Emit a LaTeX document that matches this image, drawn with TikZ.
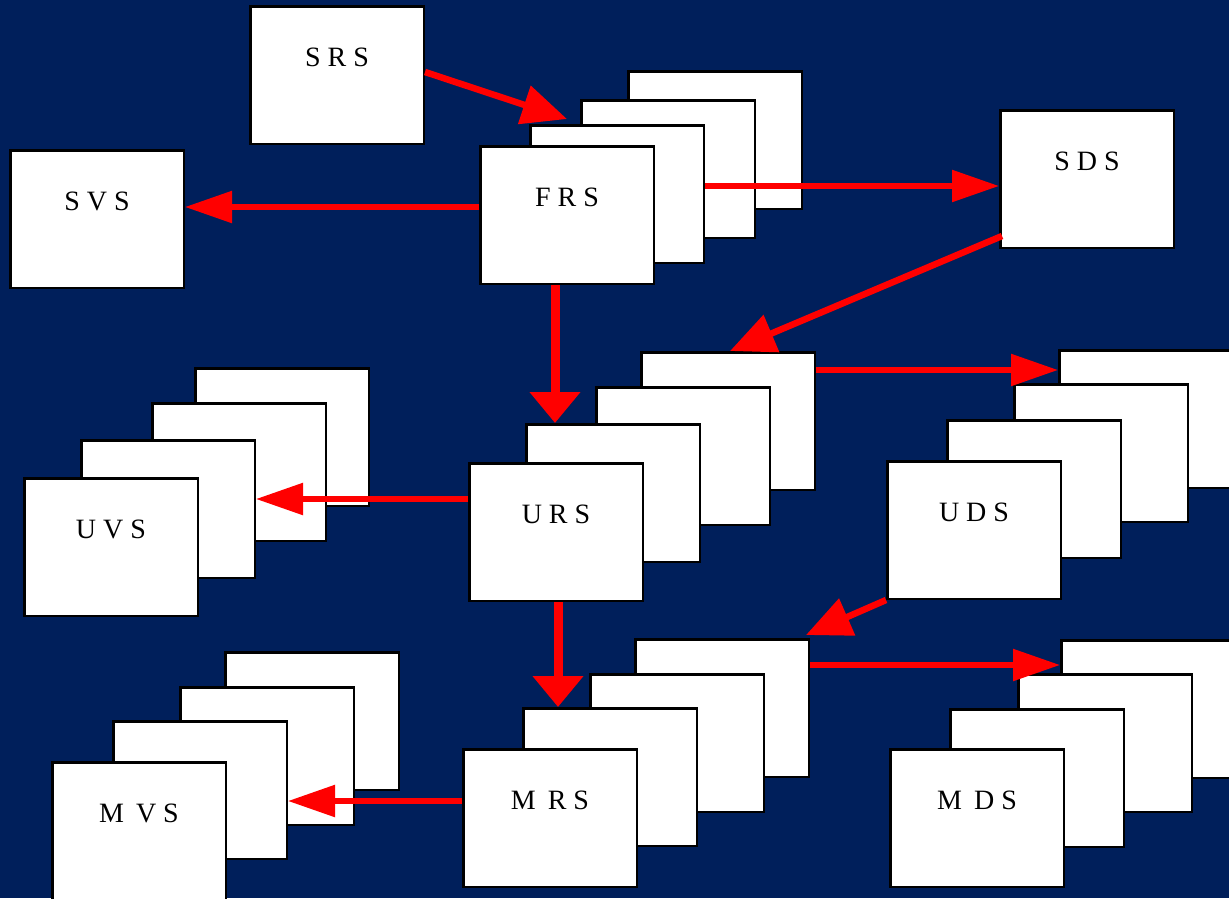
\documentclass[tikz,border=0pt]{standalone}
\usepackage{fontspec}
\setmainfont{Liberation Serif}
\usetikzlibrary{arrows.meta}
\definecolor{deepnavy}{HTML}{001F5B}
\newcommand\tagfont{\fontsize{28pt}{30pt}\selectfont}

\tikzset{
  card/.style={rectangle, draw=black, line width=2.5pt, fill=white, inner sep=0pt,
               minimum width=173.5pt, minimum height=137.5pt, anchor=north west},
  tag/.style={label={[anchor=base, yshift=-61pt, font=\tagfont, text=black]north:#1}},
  link/.style={draw=red, line cap=butt},
  hh/.style={link, line width=5.5pt, -{Triangle[length=47pt,width=31pt]}},
  hv/.style={link, line width=9pt, -{Triangle[length=31pt,width=49pt]}},
  hd/.style={link, line width=6.5pt, -{Triangle[length=45pt,width=39pt]}},
}

\begin{document}
\begin{tikzpicture}[x=1pt, y=-1pt]
  \useasboundingbox (0,0) rectangle (1229,898);
  \fill[deepnavy] (0,0) rectangle (1229,898);

  % single cards
  \node[card, tag={S R S}] (srs) at (249,5) {};
  \node[card, tag={S V S}] (svs) at (9,149) {};
  \node[card, tag={S D S}] (sds) at (999,109) {};

  % FRS stack (back to front)
  \node[card] (frs4) at (627,70) {};
  \node[card] (frs3) at (580,99) {};
  \node[card] (frs2) at (529,124) {};
  \node[card, tag={F R S}] (frs) at (479,145) {};

  % UVS stack
  \node[card] (uvs4) at (194,367) {};
  \node[card] (uvs3) at (151,402) {};
  \node[card] (uvs2) at (80,439) {};
  \node[card, tag={U V S}] (uvs) at (23,477) {};

  % URS stack
  \node[card] (urs4) at (640,351) {};
  \node[card] (urs3) at (595,386) {};
  \node[card] (urs2) at (525,423) {};
  \node[card, tag={U R S}] (urs) at (468,462) {};

  % UDS stack
  \node[card] (uds4) at (1058,349) {};
  \node[card] (uds3) at (1013,383) {};
  \node[card] (uds2) at (946,419) {};
  \node[card, tag={U D S}] (uds) at (886,460) {};

  % MVS stack
  \node[card] (mvs4) at (224,651) {};
  \node[card] (mvs3) at (179,686) {};
  \node[card] (mvs2) at (112,720) {};
  \node[card, tag={M\kern5pt\ V S}] (mvs) at (51,761) {};

  % MRS stack
  \node[card] (mrs4) at (634,638) {};
  \node[card] (mrs3) at (589,673) {};
  \node[card] (mrs2) at (522,707) {};
  \node[card, tag={M\kern5pt\ R S}] (mrs) at (462,748) {};

  % MDS stack
  \node[card] (mds4) at (1060,639) {};
  \node[card] (mds3) at (1017,673) {};
  \node[card] (mds2) at (949,708) {};
  \node[card, tag={M\kern5pt\ D S}] (mds) at (889,748) {};

  % connector start points
  \coordinate (f-w) at ([yshift=8pt]frs.west);
  \coordinate (f-e) at ([yshift=8pt]frs2.east);
  \coordinate (f-s) at ([xshift=-12pt]frs.south);
  \coordinate (u-w) at ([yshift=33pt]urs.west);
  \coordinate (u-e) at ([yshift=-19pt]urs4.north east);
  \coordinate (u-s) at ([xshift=2pt]urs.south);
  \coordinate (m-w) at ([yshift=17pt]mrs.west);
  \coordinate (m-e) at ([yshift=-27pt]mrs4.north east);

  % connectors
  \draw[hd] ([yshift=3pt]srs.east) -- ([shift={(38,-5)}]frs2.north west);
  \draw[hh] (f-w) -- (f-w -| svs.east);
  \draw[hh] (f-e) -- (f-e -| sds.west);
  \draw[hd] ([shift={(3,-13)}]sds.south west) -- ([shift={(90,0)}]urs4.north west);
  \draw[hv] (f-s) -- (f-s |- urs2.north);
  \draw[hh] (u-w) -- (u-w -| uvs2.east);
  \draw[hh] (u-e) -- (u-e -| uds4.west);
  \draw[hd] (uds.south west) -- ([shift={(-4,-3)}]mrs4.north east);
  \draw[hv] (u-s) -- (u-s |- mrs2.north);
  \draw[hh] (m-w) -- (m-w -| mvs2.east);
  \draw[hh] (m-e) -- (m-e -| mds4.west);
\end{tikzpicture}
\end{document}
